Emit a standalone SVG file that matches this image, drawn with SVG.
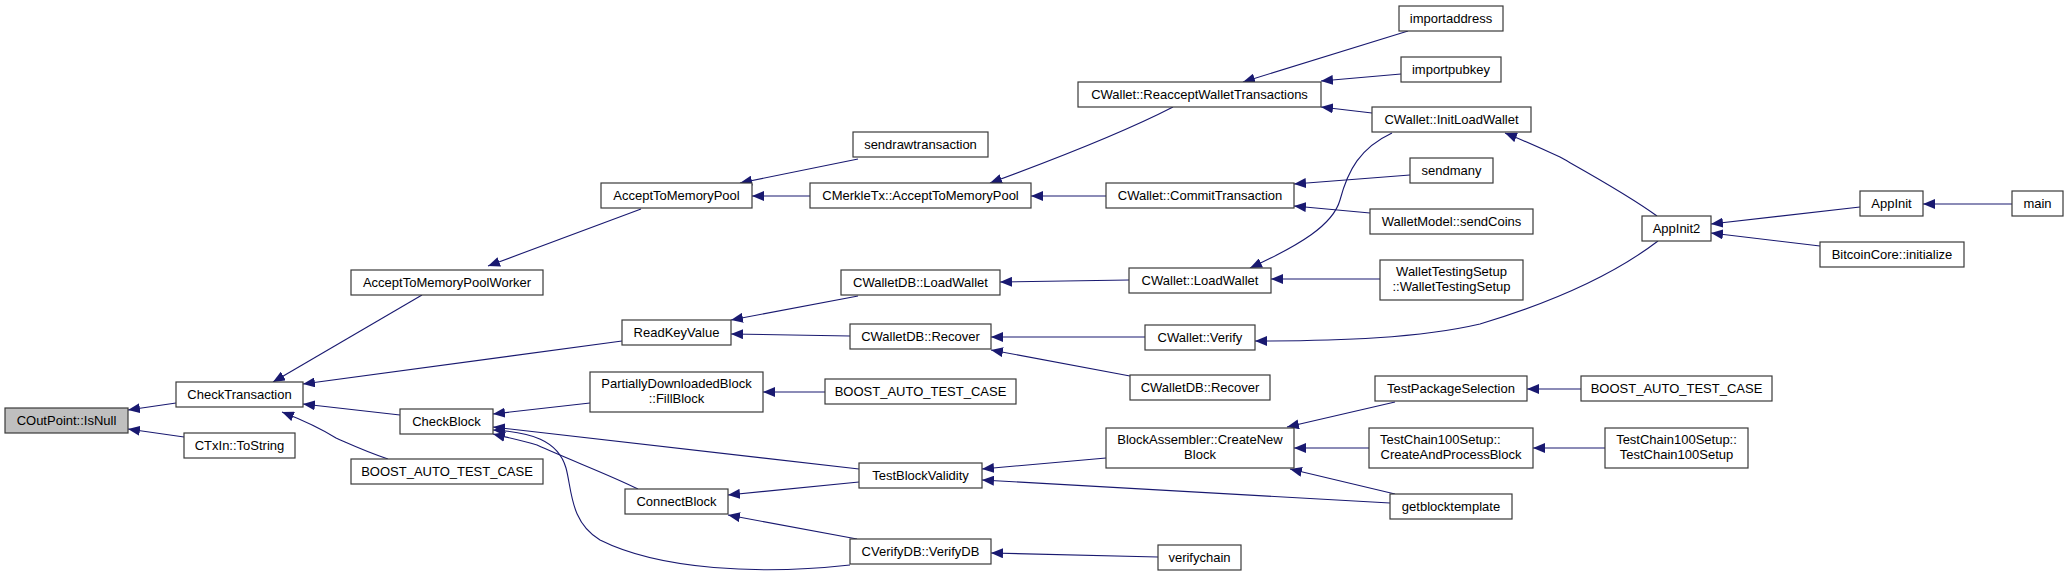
<svg xmlns="http://www.w3.org/2000/svg" width="2068" height="576" viewBox="0 0 2068 576">
<style>
.n rect{fill:#ffffff;stroke:#3a3a3a;stroke-width:1.2}
.n.root rect{fill:#bfbfbf}
.n text{font-family:"Liberation Sans",Arial,sans-serif;font-size:13px;fill:#000;text-anchor:middle}
#edges path{fill:none;stroke:#191970;stroke-width:1.1;marker-end:url(#ah)}
</style>
<defs>
<marker id="ah" viewBox="0 0 12 10" refX="12" refY="5" markerWidth="12" markerHeight="10" markerUnits="userSpaceOnUse" orient="auto">
<path d="M0,0 L12,5 L0,10 z" fill="#191970"/>
</marker>
</defs>
<rect width="2068" height="576" fill="#ffffff"/>
<g id="edges">
<path d="M176,403 L128,410"/>
<path d="M184,437 L128,429"/>
<path d="M422,295 L273,382"/>
<path d="M622,341 L303,384"/>
<path d="M400,415 L303,404"/>
<path d="M388,459 C362,450 350,444 336,438 C320,428 305,421 282,412"/>
<path d="M641,209 L488,266"/>
<path d="M858,159 L740,183"/>
<path d="M810,196 L752,196"/>
<path d="M1173,107 C1140,124 1080,150 990,183"/>
<path d="M1106,196 L1031,196"/>
<path d="M1408,31 L1243,82"/>
<path d="M1401,74 L1321,81"/>
<path d="M1372,113 L1321,107"/>
<path d="M1410,175 L1294,184"/>
<path d="M1370,213 L1294,206"/>
<path d="M858,296 L731,320"/>
<path d="M850,336 L731,334"/>
<path d="M1129,280 L1000,282"/>
<path d="M1392,133 C1360,148 1348,170 1340,200 C1333,225 1300,245 1250,268"/>
<path d="M1380,279 L1271,279"/>
<path d="M1145,337 L991,337"/>
<path d="M1130,376 L991,350"/>
<path d="M1658,241 C1620,270 1560,300 1480,324 C1420,338 1340,341 1255,341"/>
<path d="M1657,216 C1630,196 1590,174 1560,157 C1540,148 1525,141 1505,133"/>
<path d="M1860,207 L1711,224"/>
<path d="M1820,246 L1711,233"/>
<path d="M2012,204 L1923,204"/>
<path d="M590,403 L493,414"/>
<path d="M859,469 L493,427"/>
<path d="M638,489 C610,475 570,460 537,445 C520,440 505,437 493,434"/>
<path d="M850,565 C760,575 660,570 600,540 C570,522 572,490 566,468 C558,440 530,432 493,430"/>
<path d="M825,392 L763,392"/>
<path d="M859,482 L728,495"/>
<path d="M857,539 L728,515"/>
<path d="M1106,458 L982,469"/>
<path d="M1390,503 L982,480"/>
<path d="M1395,402 L1287,427"/>
<path d="M1369,448 L1294,448"/>
<path d="M1395,494 L1290,469"/>
<path d="M1581,389 L1527,389"/>
<path d="M1605,448 L1533,448"/>
<path d="M1158,557 L991,553"/>
</g>
<g id="n0" class="n root"><rect x="5" y="408" width="123" height="25"/><text x="66.5" y="425">COutPoint::IsNull</text></g>
<g id="n1" class="n"><rect x="176" y="382" width="127" height="25"/><text x="239.5" y="399">CheckTransaction</text></g>
<g id="n2" class="n"><rect x="184" y="433" width="111" height="25"/><text x="239.5" y="450">CTxIn::ToString</text></g>
<g id="n3" class="n"><rect x="351" y="270" width="192" height="25"/><text x="447" y="287">AcceptToMemoryPoolWorker</text></g>
<g id="n4" class="n"><rect x="400" y="409" width="93" height="25"/><text x="446.5" y="426">CheckBlock</text></g>
<g id="n5" class="n"><rect x="351" y="459" width="192" height="25"/><text x="447" y="476">BOOST_AUTO_TEST_CASE</text></g>
<g id="n6" class="n"><rect x="601" y="183" width="151" height="25"/><text x="676.5" y="200">AcceptToMemoryPool</text></g>
<g id="n7" class="n"><rect x="622" y="320" width="109" height="25"/><text x="676.5" y="337">ReadKeyValue</text></g>
<g id="n8" class="n"><rect x="590" y="372" width="173" height="40"/><text x="676.5" y="388">PartiallyDownloadedBlock</text><text x="676.5" y="403">::FillBlock</text></g>
<g id="n9" class="n"><rect x="625" y="489" width="103" height="25"/><text x="676.5" y="506">ConnectBlock</text></g>
<g id="n10" class="n"><rect x="853" y="132" width="135" height="25"/><text x="920.5" y="149">sendrawtransaction</text></g>
<g id="n11" class="n"><rect x="810" y="183" width="221" height="25"/><text x="920.5" y="200">CMerkleTx::AcceptToMemoryPool</text></g>
<g id="n12" class="n"><rect x="841" y="270" width="159" height="25"/><text x="920.5" y="287">CWalletDB::LoadWallet</text></g>
<g id="n13" class="n"><rect x="850" y="324" width="141" height="25"/><text x="920.5" y="341">CWalletDB::Recover</text></g>
<g id="n14" class="n"><rect x="825" y="379" width="191" height="25"/><text x="920.5" y="396">BOOST_AUTO_TEST_CASE</text></g>
<g id="n15" class="n"><rect x="859" y="463" width="123" height="25"/><text x="920.5" y="480">TestBlockValidity</text></g>
<g id="n16" class="n"><rect x="850" y="539" width="141" height="25"/><text x="920.5" y="556">CVerifyDB::VerifyDB</text></g>
<g id="n17" class="n"><rect x="1078" y="82" width="243" height="25"/><text x="1199.5" y="99">CWallet::ReacceptWalletTransactions</text></g>
<g id="n18" class="n"><rect x="1106" y="183" width="188" height="25"/><text x="1200" y="200">CWallet::CommitTransaction</text></g>
<g id="n19" class="n"><rect x="1129" y="268" width="142" height="25"/><text x="1200" y="285">CWallet::LoadWallet</text></g>
<g id="n20" class="n"><rect x="1145" y="325" width="110" height="25"/><text x="1200" y="342">CWallet::Verify</text></g>
<g id="n21" class="n"><rect x="1130" y="375" width="140" height="25"/><text x="1200" y="392">CWalletDB::Recover</text></g>
<g id="n22" class="n"><rect x="1106" y="428" width="188" height="40"/><text x="1200" y="444">BlockAssembler::CreateNew</text><text x="1200" y="459">Block</text></g>
<g id="n23" class="n"><rect x="1158" y="545" width="83" height="25"/><text x="1199.5" y="562">verifychain</text></g>
<g id="n24" class="n"><rect x="1399" y="6" width="104" height="25"/><text x="1451" y="23">importaddress</text></g>
<g id="n25" class="n"><rect x="1401" y="57" width="100" height="25"/><text x="1451" y="74">importpubkey</text></g>
<g id="n26" class="n"><rect x="1372" y="107" width="159" height="25"/><text x="1451.5" y="124">CWallet::InitLoadWallet</text></g>
<g id="n27" class="n"><rect x="1410" y="158" width="83" height="25"/><text x="1451.5" y="175">sendmany</text></g>
<g id="n28" class="n"><rect x="1370" y="209" width="163" height="25"/><text x="1451.5" y="226">WalletModel::sendCoins</text></g>
<g id="n29" class="n"><rect x="1380" y="260" width="143" height="40"/><text x="1451.5" y="276">WalletTestingSetup</text><text x="1451.5" y="291">::WalletTestingSetup</text></g>
<g id="n30" class="n"><rect x="1375" y="376" width="152" height="25"/><text x="1451" y="393">TestPackageSelection</text></g>
<g id="n31" class="n"><rect x="1369" y="428" width="164" height="40"/><text x="1380" y="444" style="text-anchor:start">TestChain100Setup::</text><text x="1451" y="459">CreateAndProcessBlock</text></g>
<g id="n32" class="n"><rect x="1390" y="494" width="122" height="25"/><text x="1451" y="511">getblocktemplate</text></g>
<g id="n33" class="n"><rect x="1642" y="216" width="69" height="25"/><text x="1676.5" y="233">AppInit2</text></g>
<g id="n34" class="n"><rect x="1581" y="376" width="191" height="25"/><text x="1676.5" y="393">BOOST_AUTO_TEST_CASE</text></g>
<g id="n35" class="n"><rect x="1605" y="428" width="143" height="40"/><text x="1676.5" y="444">TestChain100Setup::</text><text x="1676.5" y="459">TestChain100Setup</text></g>
<g id="n36" class="n"><rect x="1860" y="191" width="63" height="25"/><text x="1891.5" y="208">AppInit</text></g>
<g id="n37" class="n"><rect x="1820" y="242" width="144" height="25"/><text x="1892" y="259">BitcoinCore::initialize</text></g>
<g id="n38" class="n"><rect x="2012" y="191" width="51" height="25"/><text x="2037.5" y="208">main</text></g>
</svg>
